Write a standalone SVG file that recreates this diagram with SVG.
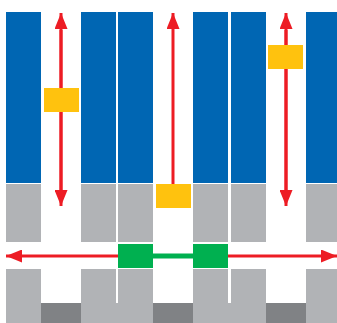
<svg xmlns="http://www.w3.org/2000/svg" width="337" height="323" viewBox="0 0 337 323">
<style>
.blue{fill:#0066B3}
.gray{fill:#B1B3B6}
.dark{fill:#808285}
.yel{fill:#FFC20E}
.grn{fill:#00B050}
.red{stroke:#ED1C24;stroke-width:3;fill:none}
.gl{stroke:#00B050;stroke-width:5}
</style>
<defs>
<marker id="ah" viewBox="0 0 16 13" refX="16" refY="6.5" markerWidth="16" markerHeight="13" markerUnits="userSpaceOnUse" orient="auto">
<path d="M0,0 L16,6.5 L0,13 Z" fill="#ED1C24"/>
</marker>
</defs>
<rect width="337" height="323" fill="#fff"/>
<g id="columns">
<g id="col1"><rect class="blue" x="6" y="12" width="35" height="171"/><rect class="gray" x="6" y="184" width="35" height="58"/><rect class="gray" x="6" y="269" width="35" height="54"/></g>
<g id="col2"><rect class="blue" x="81" y="12" width="35" height="171"/><rect class="gray" x="81" y="184" width="35" height="58"/><rect class="gray" x="81" y="269" width="35" height="54"/></g>
<g id="col3"><rect class="blue" x="118" y="12" width="35" height="171"/><rect class="gray" x="118" y="184" width="35" height="58"/><rect class="gray" x="118" y="269" width="35" height="54"/></g>
<g id="col4"><rect class="blue" x="193" y="12" width="35" height="171"/><rect class="gray" x="193" y="184" width="35" height="58"/><rect class="gray" x="193" y="269" width="35" height="54"/></g>
<g id="col5"><rect class="blue" x="231" y="12" width="35" height="171"/><rect class="gray" x="231" y="184" width="35" height="58"/><rect class="gray" x="231" y="269" width="35" height="54"/></g>
<g id="col6"><rect class="blue" x="306" y="12" width="35" height="171"/><rect class="gray" x="306" y="184" width="35" height="58"/><rect class="gray" x="306" y="269" width="35" height="54"/></g>
<g id="base">
<rect class="dark" x="41" y="303" width="40" height="20"/>
<rect class="gray" x="116" y="303" width="2" height="20"/>
<rect class="dark" x="153" y="303" width="40" height="20"/>
<rect class="gray" x="228" y="303" width="3" height="20"/>
<rect class="dark" x="266" y="303" width="40" height="20"/>
</g>
</g>
<g id="connectors">
<line class="red" x1="61" y1="190" x2="61" y2="13" marker-end="url(#ah)"/>
<line class="red" x1="61" y1="30" x2="61" y2="206" marker-end="url(#ah)"/>
<line class="red" x1="173" y1="190" x2="173" y2="13" marker-end="url(#ah)"/>
<line class="red" x1="286" y1="190" x2="286" y2="13" marker-end="url(#ah)"/>
<line class="red" x1="286" y1="30" x2="286" y2="206" marker-end="url(#ah)"/>
<line class="red" x1="120" y1="256" x2="6" y2="256" marker-end="url(#ah)"/>
<line class="red" x1="226" y1="256" x2="337" y2="256" marker-end="url(#ah)"/>
<line class="gl" x1="150" y1="256" x2="196" y2="256"/>
</g>
<g id="slider1"><rect class="yel" x="44" y="88" width="35" height="24"/></g>
<g id="slider2"><rect class="yel" x="156" y="184" width="35" height="24"/></g>
<g id="slider3"><rect class="yel" x="268" y="45" width="35" height="24"/></g>
<g id="block1"><rect class="grn" x="118" y="244" width="35" height="24"/></g>
<g id="block2"><rect class="grn" x="193" y="244" width="35" height="24"/></g>
</svg>
